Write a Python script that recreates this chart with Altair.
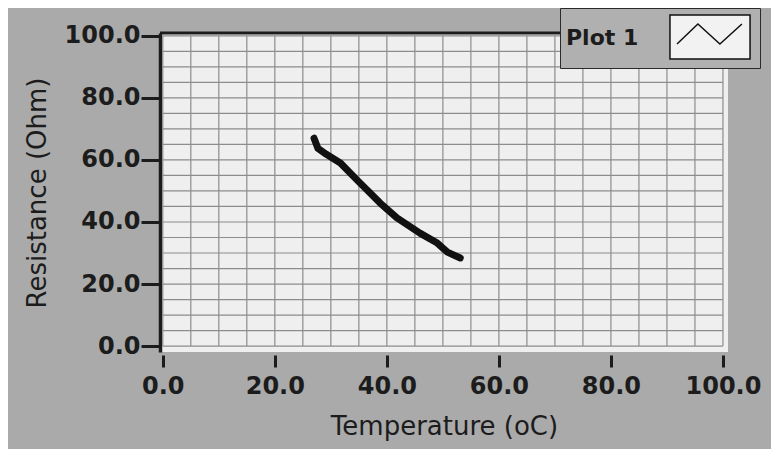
import altair as alt
import pandas as pd

# ---- data ----
temperature = [27.0, 27.7, 29.2, 31.7, 34.7, 38.8, 41.8, 45.9, 49.0, 50.8, 53.1]
resistance = [67.0, 63.7, 61.8, 59.0, 53.5, 46.1, 41.3, 36.4, 33.2, 30.3, 28.4]
series_name = "Plot 1"
major_ticks = [0, 20, 40, 60, 80, 100]
grid_values = [0, 5, 10, 15, 20, 25, 30, 35, 40, 45, 50, 55, 60, 65, 70, 75, 80, 85, 90, 95, 100]

X_DOMAIN = [-0.5, 100.9]
Y_DOMAIN = [-1.9, 100.9]

df = pd.DataFrame({
    "Temperature": temperature,
    "Resistance": resistance,
    "Series": [series_name] * len(temperature),
})
grid_df = pd.DataFrame({"v": grid_values, "lo": [0] * len(grid_values), "hi": [100] * len(grid_values)})
border_df = pd.DataFrame({"y": [Y_DOMAIN[1]], "x0": [X_DOMAIN[0]], "x1": [X_DOMAIN[1]]})

INK = "#1c1c1c"
FONT = "DejaVu Sans"

xs = alt.Scale(domain=X_DOMAIN, nice=False, zero=False)
ys = alt.Scale(domain=Y_DOMAIN, nice=False, zero=False)

x_axis = alt.Axis(
    values=major_ticks, format=".1f", grid=False, domain=False, offset=3,
    tickSize=12, tickWidth=3, tickColor=INK,
    labelFont=FONT, labelFontWeight="bold", labelFontSize=24, labelColor=INK,
    labelPadding=7, labelFlush=False,
    title="Temperature (oC)", titleFont=FONT, titleFontSize=26, titleFontWeight="normal",
    titleColor=INK, titlePadding=15,
)
y_axis = alt.Axis(
    values=major_ticks, format=".1f", grid=False, domain=True, domainColor=INK, domainWidth=3.5,
    tickSize=19, tickWidth=3, tickColor=INK,
    labelFont=FONT, labelFontWeight="bold", labelFontSize=24, labelColor=INK, labelPadding=1,
    labelFlush=False,
    title="Resistance (Ohm)", titleFont=FONT, titleFontSize=26, titleFontWeight="normal",
    titleColor=INK, titlePadding=14,
)

vgrid = alt.Chart(grid_df).mark_rule(color="#8c8c8c", strokeWidth=1.2).encode(
    x=alt.X("v:Q", scale=xs, axis=x_axis),
    y=alt.Y("lo:Q", scale=ys, axis=y_axis),
    y2="hi:Q",
)
hgrid = alt.Chart(grid_df).mark_rule(color="#8c8c8c", strokeWidth=1.2).encode(
    y=alt.Y("v:Q", scale=ys, axis=y_axis),
    x=alt.X("lo:Q", scale=xs, axis=x_axis),
    x2="hi:Q",
)
top_border = alt.Chart(border_df).mark_rule(color=INK, strokeWidth=3).encode(
    y=alt.Y("y:Q", scale=ys, axis=y_axis),
    x=alt.X("x0:Q", scale=xs, axis=x_axis),
    x2="x1:Q",
)

legend_symbol = (
    "M-1.82,-1H1.82V1H-1.82Z "
    "M-1.5,0.32L-0.55,-0.59L0.45,0.32L1.45,-0.59L0.45,0.32L-0.55,-0.59Z"
)

line = alt.Chart(df).mark_line(strokeWidth=7, strokeCap="round", strokeJoin="round").encode(
    x=alt.X("Temperature:Q", scale=xs, axis=x_axis),
    y=alt.Y("Resistance:Q", scale=ys, axis=y_axis),
    color=alt.Color(
        "Series:N",
        scale=alt.Scale(range=["#111111"]),
        legend=alt.Legend(
            title=series_name, titleOrient="left", orient="none", legendX=400, legendY=-25,
            labelExpr="''", symbolType=legend_symbol, symbolSize=1936,
            symbolFillColor="#f2f2f2", symbolStrokeColor="#3a3a3a", symbolStrokeWidth=1.5,
            fillColor="#b0b0b0", strokeColor="#2a2a2a", padding=6,
            titleFont=FONT, titleFontSize=22, titleFontWeight="bold", titleColor=INK,
            titlePadding=48, labelOffset=0,
        ),
    ),
)

chart = alt.layer(vgrid, hgrid, top_border, line).properties(
    width=568, height=319,
    autosize=alt.AutoSizeParams(type="none"),
    padding={"left": 152, "top": 25, "right": 43, "bottom": 97},
).configure(
    background="#aaaaaa",
).configure_view(
    fill="#efefef", stroke=None,
)

chart.save("out.html", embed_options={"renderer": "svg", "actions": False})
